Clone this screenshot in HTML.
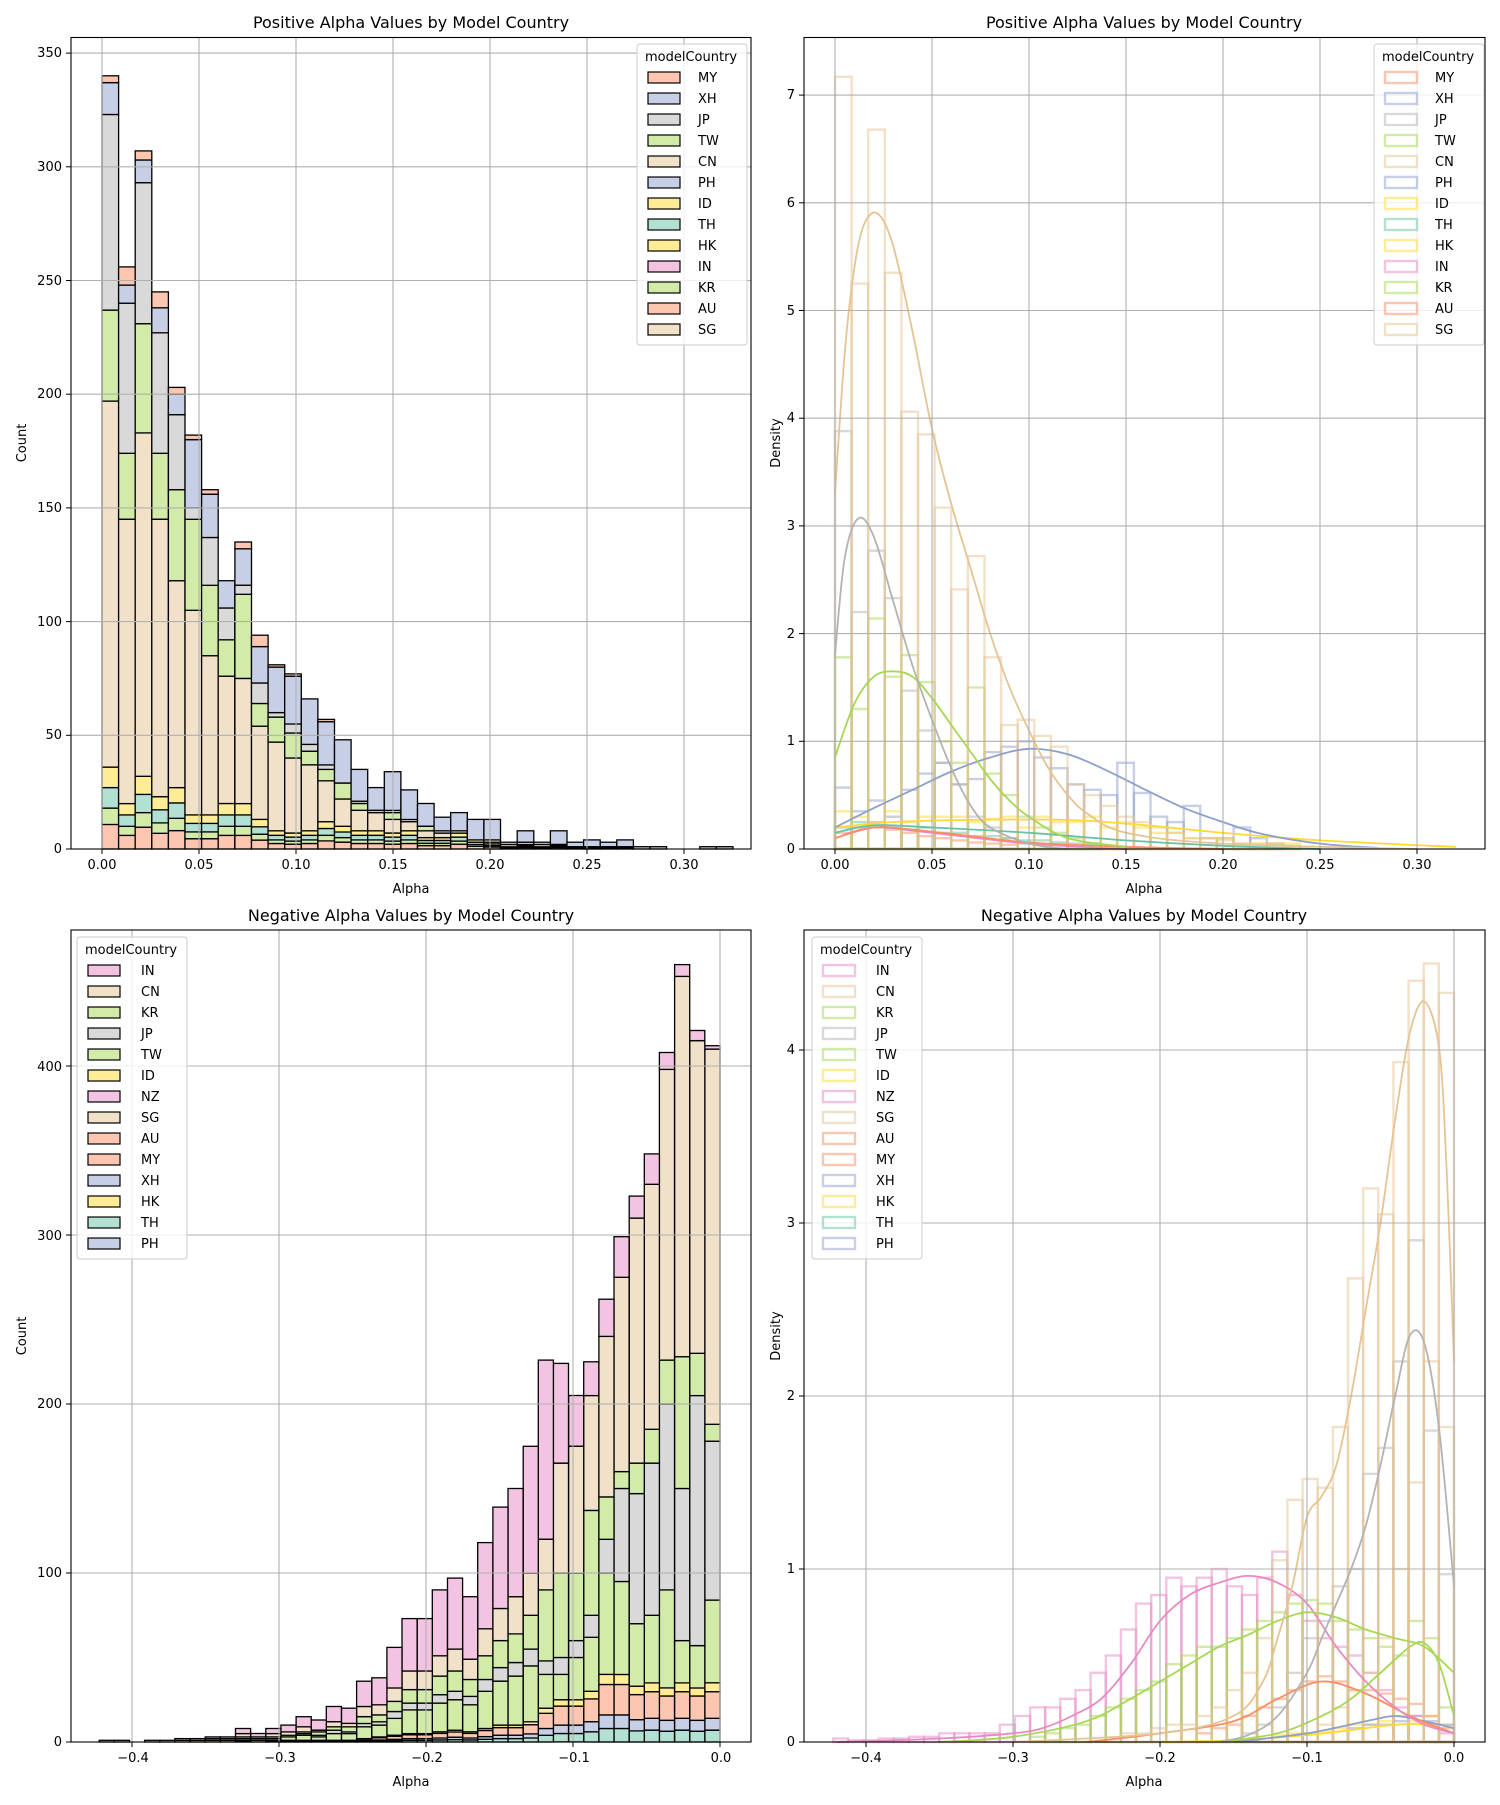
<!DOCTYPE html>
<html><head><meta charset="utf-8"><style>
html,body{margin:0;padding:0;background:#fff}
svg text{font-family:"DejaVu Sans","Liberation Sans",sans-serif;fill:#000}
</style></head><body>
<svg id="s" width="1500" height="1800" viewBox="0 0 1500 1800" xmlns="http://www.w3.org/2000/svg">
<rect width="1500" height="1800" fill="#fff"/>
<g id="plots"></g>
<g font-size="16" text-anchor="middle">
<text x="411" y="28">Positive Alpha Values by Model Country</text>
<text x="1144" y="28">Positive Alpha Values by Model Country</text>
<text x="411" y="921">Negative Alpha Values by Model Country</text>
<text x="1144" y="921">Negative Alpha Values by Model Country</text>
</g>
<g font-size="13" text-anchor="middle">
<text x="411" y="893">Alpha</text><text x="1144" y="893">Alpha</text>
<text x="411" y="1786">Alpha</text><text x="1144" y="1786">Alpha</text>
<text transform="translate(26,443) rotate(-90)">Count</text>
<text transform="translate(780,443) rotate(-90)">Density</text>
<text transform="translate(26,1336) rotate(-90)">Count</text>
<text transform="translate(780,1336) rotate(-90)">Density</text>
</g>
<g font-size="13" text-anchor="middle">
<text x="102" y="869">0.00</text><text x="199" y="869">0.05</text><text x="296" y="869">0.10</text><text x="393" y="869">0.15</text><text x="490" y="869">0.20</text><text x="587" y="869">0.25</text><text x="684" y="869">0.30</text>
<text x="835" y="869">0.00</text><text x="932" y="869">0.05</text><text x="1029" y="869">0.10</text><text x="1126" y="869">0.15</text><text x="1223" y="869">0.20</text><text x="1320" y="869">0.25</text><text x="1417" y="869">0.30</text>
<text x="133" y="1762">−0.4</text><text x="280" y="1762">−0.3</text><text x="427" y="1762">−0.2</text><text x="574" y="1762">−0.1</text><text x="721" y="1762">0.0</text>
<text x="866" y="1762">−0.4</text><text x="1013" y="1762">−0.3</text><text x="1160" y="1762">−0.2</text><text x="1307" y="1762">−0.1</text><text x="1454" y="1762">0.0</text>
</g>
<g font-size="13" text-anchor="end">
<text x="62" y="853">0</text><text x="62" y="739">50</text><text x="62" y="626">100</text><text x="62" y="512">150</text><text x="62" y="398">200</text><text x="62" y="285">250</text><text x="62" y="171">300</text><text x="62" y="57">350</text>
<text x="795" y="853">0</text><text x="795" y="745">1</text><text x="795" y="638">2</text><text x="795" y="530">3</text><text x="795" y="422">4</text><text x="795" y="315">5</text><text x="795" y="207">6</text><text x="795" y="99">7</text>
<text x="62" y="1746">0</text><text x="62" y="1577">100</text><text x="62" y="1408">200</text><text x="62" y="1240">300</text><text x="62" y="1071">400</text>
<text x="795" y="1746">0</text><text x="795" y="1573">1</text><text x="795" y="1400">2</text><text x="795" y="1227">3</text><text x="795" y="1054">4</text>
</g>
<g id="legends"></g>
<g font-size="13">
<text x="645" y="61">modelCountry</text>
<text x="1382" y="61">modelCountry</text>
<text x="85" y="954">modelCountry</text>
<text x="820" y="954">modelCountry</text>
</g>
<g font-size="13">
<text x="698" y="82">MY</text><text x="698" y="103">XH</text><text x="698" y="124">JP</text><text x="698" y="145">TW</text><text x="698" y="166">CN</text><text x="698" y="187">PH</text><text x="698" y="208">ID</text><text x="698" y="229">TH</text><text x="698" y="250">HK</text><text x="698" y="271">IN</text><text x="698" y="292">KR</text><text x="698" y="313">AU</text><text x="698" y="334">SG</text>
</g>
<g font-size="13">
<text x="1435" y="82">MY</text><text x="1435" y="103">XH</text><text x="1435" y="124">JP</text><text x="1435" y="145">TW</text><text x="1435" y="166">CN</text><text x="1435" y="187">PH</text><text x="1435" y="208">ID</text><text x="1435" y="229">TH</text><text x="1435" y="250">HK</text><text x="1435" y="271">IN</text><text x="1435" y="292">KR</text><text x="1435" y="313">AU</text><text x="1435" y="334">SG</text>
</g>
<g font-size="13">
<text x="141" y="975">IN</text><text x="141" y="996">CN</text><text x="141" y="1017">KR</text><text x="141" y="1038">JP</text><text x="141" y="1059">TW</text><text x="141" y="1080">ID</text><text x="141" y="1101">NZ</text><text x="141" y="1122">SG</text><text x="141" y="1143">AU</text><text x="141" y="1164">MY</text><text x="141" y="1185">XH</text><text x="141" y="1206">HK</text><text x="141" y="1227">TH</text><text x="141" y="1248">PH</text>
</g>
<g font-size="13">
<text x="876" y="975">IN</text><text x="876" y="996">CN</text><text x="876" y="1017">KR</text><text x="876" y="1038">JP</text><text x="876" y="1059">TW</text><text x="876" y="1080">ID</text><text x="876" y="1101">NZ</text><text x="876" y="1122">SG</text><text x="876" y="1143">AU</text><text x="876" y="1164">MY</text><text x="876" y="1185">XH</text><text x="876" y="1206">HK</text><text x="876" y="1227">TH</text><text x="876" y="1248">PH</text>
</g>
</svg>
<script>
var C={te:'#66c2a5',or:'#fc8d62',bl:'#8da0cb',pk:'#e78ac3',gr:'#a6d854',ye:'#ffd92f',tan:'#e5c494',gy:'#b3b3b3'};
var L={te:'#b2e0d2',or:'#fdc6b0',bl:'#c6cfe5',pk:'#f3c4e1',gr:'#d2eba9',ye:'#ffec97',tan:'#f2e1c9',gy:'#d9d9d9'};
var out=[];
function rect(x,y,w,h,f,st,sw,op){out.push('<rect x="'+x.toFixed(1)+'" y="'+y.toFixed(1)+'" width="'+w.toFixed(1)+'" height="'+Math.max(0,h).toFixed(1)+'" fill="'+f+'"'+(st?' stroke="'+st+'" stroke-width="'+sw+'"':'')+(op?' stroke-opacity="'+op+'"':'')+'/>');}
function line(x1,y1,x2,y2,c,w){out.push('<line x1="'+x1+'" y1="'+y1+'" x2="'+x2+'" y2="'+y2+'" stroke="'+c+'" stroke-width="'+w+'"/>');}
var P=[
 {l:71,r:751,t:37.5,b:849,x0:102,sx:1940,y0:849,sy:2.274},
 {l:804,r:1485,t:37.5,b:849,x0:835,sx:1940,y0:849,sy:107.7},
 {l:71,r:751,t:930,b:1742,x0:720,sx:1470,y0:1742,sy:1.69},
 {l:804,r:1485,t:930,b:1742,x0:1454,sx:1470,y0:1742,sy:173}];
function X(p,v){return p.x0+v*p.sx} function Y(p,v){return p.y0-v*p.sy}
function grid(p,xs,ys){xs.forEach(function(v){line(X(p,v),p.t,X(p,v),p.b,'#b0b0b0',1.1)});ys.forEach(function(v){line(p.l,Y(p,v),p.r,Y(p,v),'#b0b0b0',1.1)});}
function frame(p,xs,ys){out.push('<rect x="'+p.l+'" y="'+p.t+'" width="'+(p.r-p.l)+'" height="'+(p.b-p.t)+'" fill="none" stroke="#000" stroke-width="1.1"/>');
 xs.forEach(function(v){line(X(p,v),p.b,X(p,v),p.b+5,'#000',1)});ys.forEach(function(v){line(p.l-5,Y(p,v),p.l,Y(p,v),'#000',1)});}
var p=P[0],w1=0.00856;
var d1=[[36,197,237,323,337,340],[20,145,174,240,248,256],[32,183,231,293,303,307],[23,145,174,227,238,245],[27,118,158,191,200,203],[15,105,145,150,180,182],[15,85,116,137,156,158],[20,76,92,106,118,118],[20,75,112,116,132,135],[13,54,64,73,89,94],[8,47,58,60,80,81],[7,40,51,55,76,77],[8,37,43,46,66,66],[12,30,35,37,56,57],[10,22,29,29,48,48],[8,17,20,21,35,35],[8,16,16,17,27,27],[7,13,16,17,34,34],[8,12,12,13,26,26],[5,8,10,10,20,20],[5,7,7,8,14,14],[7,7,8,8,16,16],[4,4,4,4,13,13],[3,4,4,4,13,13],[1,2,2,2,3,3],[2,3,3,3,8,8],[1,2,2,2,3,3],[2,2,2,2,8,8],[1,1,1,1,3,3],[1,1,1,1,4,4],[1,1,1,1,3,3],[1,1,1,1,4,4],[0,0,0,0,1,1],[0,0,0,0,1,1],[0,0,0,0,0,0],[0,0,0,0,0,0],[0,0,0,0,1,1],[0,0,0,0,1,1]];
function stack(p,x,w,layers){var prev=0;layers.forEach(function(a){var v=a[0],c=a[1];if(v>prev){rect(X(p,x),Y(p,v),w*p.sx,(v-prev)*p.sy,c,'#000',1.3);prev=v;}});}
d1.forEach(function(d,i){var s=d[0];var x=i*w1;
 stack(p,x,w1,[[s*0.3,L.or],[s*0.5,L.gr],[s*0.75,L.te],[s,L.ye],[d[1],L.tan],[d[2],L.gr],[d[3],L.gy],[d[4],L.bl],[d[5],L.or]]);});
grid(p,[0,.05,.1,.15,.2,.25,.3],[50,100,150,200,250,300,350]);
frame(p,[0,.05,.1,.15,.2,.25,.3],[0,50,100,150,200,250,300,350]);
p=P[2];var w3=0.0103;
var T=[412,421,460,408,348,323,299,262,225,205,224,226,175,150,139,118,86,97,90,73,73,56,38,36,20,21,13,15,10,8,5,8,3,3,2,2,1,1,0,1,1];
var head=[[35,84,178,188,410],[32,57,205,230,415],[35,60,150,228,453],[32,90,200,226,398],[35,75,165,185,330],[33,70,147,165,310],[40,95,150,160,275],[40,100,120,145,240],[30,62,75,137,205],[25,50,60,100,175],[25,40,50,100,165],[20,40,48,90,120]];
T.forEach(function(tt,k){var d;if(k<head.length)d=head[k];else{var f=tt/175;d=[Math.round(12*f),Math.round(45*f),Math.round(55*f),Math.round(75*f),Math.round(100*f)];}
 var x=-(k+1)*w3,s=d[0];
 stack(p,x,w3,[[s*0.2,L.te],[s*0.4,L.bl],[s*0.85,L.or],[s,L.ye],[d[1],L.gr],[d[2],L.gy],[d[3],L.gr],[d[4],L.tan],[tt,L.pk]]);});
grid(p,[-.4,-.3,-.2,-.1,0],[100,200,300,400]);
frame(p,[-.4,-.3,-.2,-.1,0],[0,100,200,300,400]);
function outl(p,w,start,dir,hs,c){hs.forEach(function(h,i){if(h<=0)return;var x=dir>0?start+i*w:start-(i+1)*w;rect(X(p,x),Y(p,h),w*p.sx,h*p.sy,'none',c,2.4,0.5);});}
function kde(p,pts,c){var q=pts.map(function(a){return [X(p,a[0]),Y(p,a[1])]});var s='M'+q[0][0].toFixed(1)+','+q[0][1].toFixed(1);
 for(var i=0;i<q.length-1;i++){var p0=q[Math.max(0,i-1)],p1=q[i],p2=q[i+1],p3=q[Math.min(q.length-1,i+2)];
  var c1=[p1[0]+(p2[0]-p0[0])/6,p1[1]+(p2[1]-p0[1])/6],c2=[p2[0]-(p3[0]-p1[0])/6,p2[1]-(p3[1]-p1[1])/6];
  s+='C'+c1[0].toFixed(1)+','+c1[1].toFixed(1)+' '+c2[0].toFixed(1)+','+c2[1].toFixed(1)+' '+p2[0].toFixed(1)+','+p2[1].toFixed(1);}
 out.push('<path d="'+s+'" fill="none" stroke="'+c+'" stroke-width="1.8"/>');}
p=P[1];
outl(p,w1,0,1,[0.57,0.35,0.45,0.3,0.55,0.7,0.8,0.6,0.65,0.9,0.95,1.0,0.85,0.75,0.6,0.55,0.5,0.8,0.52,0.3,0.25,0.4,0.1,0.1,0.2,0.1,0.05],C.bl);
outl(p,w1,0,1,[0.35,0.3,0.2,0.35,0.25,0.3,0.3,0.3,0.25,0.28,0.3,0.2,0.3,0.25,0.25,0.3,0.2,0.25,0.2,0.15,0.15,0.1,0.1,0.1,0.05,0.05,0.05,0.05],C.ye);
outl(p,w1,0,1,[0.2,0.25,0.22,0.2,0.18,0.2,0.15,0.15,0.12,0.12,0.1,0.08,0.08,0.06,0.05,0.05],C.te);
outl(p,w1,0,1,[0.15,0.2,0.25,0.18,0.15,0.12,0.1,0.08,0.06,0.05,0.04],C.or);
outl(p,w1,0,1,[3.88,2.2,2.77,2.33,1.47,1.1,0.8,0.6,0.3,0.2,0.1,0.05],C.gy);
outl(p,w1,0,1,[1.78,1.3,2.14,1.6,1.8,1.55,1.0,0.8,1.5,0.7,0.5,0.3,0.2,0.15,0.1,0.05],C.gr);
outl(p,w1,0,1,[7.17,5.25,6.68,5.35,4.06,3.85,3.17,2.41,2.72,1.78,1.15,1.2,1.05,0.95,0.6,0.5,0.4,0.3,0.25,0.2,0.15,0.1,0.1,0.08,0.05,0.05,0.05,0.03],C.tan);
kde(p,[[0,0.1],[0.02,0.2],[0.05,0.15],[0.1,0.05],[0.15,0]],C.pk);
kde(p,[[0,0.1],[0.02,0.2],[0.04,0.18],[0.07,0.12],[0.1,0.06],[0.15,0.02],[0.2,0]],C.or);
kde(p,[[0,0.15],[0.02,0.22],[0.05,0.2],[0.1,0.15],[0.15,0.08],[0.2,0.03],[0.25,0]],C.te);
kde(p,[[0,0.2],[0.03,0.25],[0.07,0.27],[0.12,0.27],[0.16,0.22],[0.2,0.15],[0.25,0.08],[0.32,0.02]],C.ye);
kde(p,[[0,0.2],[0.02,0.38],[0.04,0.55],[0.06,0.72],[0.08,0.85],[0.1,0.93],[0.12,0.88],[0.14,0.73],[0.16,0.55],[0.18,0.38],[0.2,0.25],[0.22,0.14],[0.25,0.05],[0.28,0.01]],C.bl);
kde(p,[[0,0.85],[0.01,1.35],[0.02,1.6],[0.03,1.65],[0.04,1.6],[0.05,1.4],[0.06,1.15],[0.07,0.9],[0.08,0.65],[0.09,0.45],[0.1,0.3],[0.12,0.1],[0.15,0.02]],C.gr);
kde(p,[[0,1.8],[0.005,2.7],[0.012,3.07],[0.02,2.9],[0.03,2.3],[0.04,1.7],[0.05,1.2],[0.06,0.75],[0.07,0.4],[0.08,0.2],[0.1,0.05],[0.12,0]],C.gy);
kde(p,[[0,3.3],[0.005,4.6],[0.01,5.4],[0.015,5.8],[0.022,5.9],[0.03,5.6],[0.04,4.8],[0.05,3.9],[0.06,3.2],[0.07,2.6],[0.08,2.0],[0.09,1.5],[0.1,1.1],[0.11,0.75],[0.12,0.5],[0.13,0.33],[0.15,0.15],[0.2,0.05],[0.3,0]],C.tan);
grid(p,[0,.05,.1,.15,.2,.25,.3],[1,2,3,4,5,6,7]);
frame(p,[0,.05,.1,.15,.2,.25,.3],[0,1,2,3,4,5,6,7]);
p=P[3];
outl(p,w3,0,-1,[0.1,0.15,0.12,0.15,0.12,0.1,0.1,0.08,0.06,0.05,0.05,0.04],C.ye);
outl(p,w3,0,-1,[0.1,0.12,0.15,0.12,0.1,0.1,0.08],C.bl);
outl(p,w3,0,-1,[0.08,0.15,0.22,0.25,0.28,0.3,0.3,0.35,0.38,0.35,0.3,0.25,0.2,0.15,0.1,0.08,0.05],C.or);
outl(p,w3,0,-1,[0.05,0.1,0.15,0.2,0.3,0.4,0.5,0.55,0.6,0.7,0.85,1.1,0.95,0.85,0.9,1.0,0.95,0.9,0.95,0.85,0.8,0.65,0.5,0.4,0.3,0.25,0.2,0.2,0.15,0.1,0.05,0.05,0.05,0.05,0.03,0.03,0.02,0.02,0.01,0.01,0.02],C.pk);
outl(p,w3,0,-1,[0.2,0.6,0.7,0.5,0.55,0.6,0.65,0.7,0.8,0.82,0.8,0.75,0.7,0.65,0.6,0.55,0.55,0.5,0.45,0.35,0.3,0.25,0.2,0.15,0.1,0.08,0.05,0.03],C.gr);
outl(p,w3,0,-1,[0.97,1.8,2.9,2.2,1.7,1.55,1.0,0.9,0.7,0.6,0.4,0.2,0.1,0.05],C.gy);
outl(p,w3,0,-1,[4.33,4.5,4.4,3.93,3.05,3.2,2.68,1.82,1.47,1.52,1.4,1.05,0.6,0.4,0.3,0.2,0.15,0.1,0.1,0.08,0.05,0.05],C.tan);
outl(p,w3,0,-1,[1.82,2.2,1.5,1.0,0.6,0.4,0.3,0.2,0.1],C.tan);
kde(p,[[0,0.05],[-0.02,0.1],[-0.04,0.1],[-0.06,0.08],[-0.1,0.04],[-0.15,0.01],[-0.2,0]],C.ye);
kde(p,[[0,0.08],[-0.02,0.12],[-0.04,0.15],[-0.06,0.12],[-0.1,0.05],[-0.15,0]],C.bl);
kde(p,[[0,0.05],[-0.03,0.15],[-0.06,0.28],[-0.09,0.35],[-0.12,0.25],[-0.15,0.12],[-0.2,0.05],[-0.25,0]],C.or);
kde(p,[[0,0.05],[-0.02,0.1],[-0.04,0.2],[-0.06,0.35],[-0.08,0.55],[-0.1,0.8],[-0.12,0.92],[-0.14,0.96],[-0.16,0.92],[-0.18,0.85],[-0.2,0.7],[-0.22,0.45],[-0.24,0.25],[-0.26,0.15],[-0.28,0.08],[-0.3,0.05],[-0.35,0.02],[-0.42,0]],C.pk);
kde(p,[[0,0.4],[-0.02,0.55],[-0.04,0.6],[-0.06,0.65],[-0.08,0.72],[-0.1,0.75],[-0.12,0.7],[-0.14,0.62],[-0.16,0.55],[-0.18,0.45],[-0.2,0.35],[-0.22,0.25],[-0.25,0.12],[-0.3,0.03],[-0.35,0]],C.gr);
kde(p,[[0,0.15],[-0.01,0.45],[-0.02,0.57],[-0.03,0.55],[-0.05,0.4],[-0.07,0.25],[-0.09,0.15],[-0.12,0.05],[-0.16,0]],C.gr);
kde(p,[[0,0.9],[-0.01,1.8],[-0.02,2.3],[-0.03,2.35],[-0.04,2.0],[-0.05,1.6],[-0.06,1.25],[-0.07,1.0],[-0.08,0.8],[-0.09,0.6],[-0.1,0.4],[-0.12,0.15],[-0.14,0.04],[-0.16,0]],C.gy);
kde(p,[[0,2.2],[-0.005,3.3],[-0.01,4.0],[-0.02,4.28],[-0.03,4.1],[-0.04,3.6],[-0.05,3.0],[-0.06,2.5],[-0.07,2.0],[-0.08,1.6],[-0.09,1.42],[-0.1,1.3],[-0.11,0.9],[-0.12,0.6],[-0.13,0.35],[-0.15,0.15],[-0.2,0.05],[-0.3,0]],C.tan);
grid(p,[-.4,-.3,-.2,-.1,0],[1,2,3,4]);
frame(p,[-.4,-.3,-.2,-.1,0],[0,1,2,3,4]);
document.getElementById('plots').innerHTML=out.join('');
out=[];
function leg(x,y,h,cols,filled){out.push('<rect x="'+x+'" y="'+y+'" width="110" height="'+h+'" rx="3" fill="#fff" fill-opacity="0.8" stroke="#ccc" stroke-width="1"/>');
 cols.forEach(function(c,i){var yy=y+28+i*21;if(filled)rect(x+11,yy,32,11,L[c],'#000',1.2);else rect(x+11,yy,32,11,'none',C[c],2.4,0.5);});}
var c1=['or','bl','gy','gr','tan','bl','ye','te','ye','pk','gr','or','tan'];
var c3=['pk','tan','gr','gy','gr','ye','pk','tan','or','or','bl','ye','te','bl'];
leg(637,44,301,c1,true);leg(1374,44,301,c1,false);leg(77,937,322,c3,true);leg(812,937,322,c3,false);
document.getElementById('legends').innerHTML=out.join('');
</script>
</body></html>
